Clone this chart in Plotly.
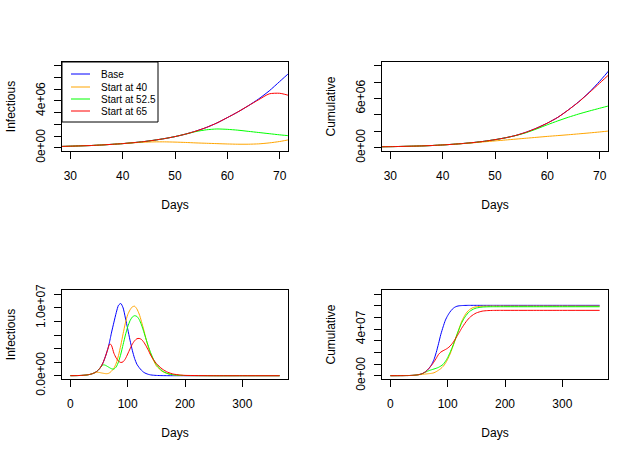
import plotly.graph_objects as go
from plotly.subplots import make_subplots

# ---------------- data (values in millions) ----------------
days = [0, 10, 20, 25, 28, 30, 32, 34, 36, 38, 40, 42, 44, 46, 48, 50, 52, 54, 56, 58,
        60, 62, 64, 66, 68, 70, 72, 76, 80, 84, 88, 92, 96, 100, 104, 108, 112, 116,
        120, 124, 128, 132, 136, 140, 145, 150, 160, 170, 180, 190, 200, 250, 300, 365]

series_names = ["Base", "Start at 40", "Start at 52.5", "Start at 65"]
series_colors = ["#0000FF", "#FFA500", "#00FF00", "#FF0000"]

inf_base = [0.005, 0.015, 0.045, 0.077, 0.105, 0.13, 0.16, 0.19, 0.235, 0.29, 0.35, 0.43, 0.52, 0.64, 0.78, 0.95, 1.16, 1.42, 1.73, 2.11,
            2.57, 3.05, 3.58, 4.17, 4.85, 5.65, 6.45, 7.9, 9.3, 10.4, 10.65, 10.0, 8.5, 6.9, 5.25, 3.75, 2.55, 1.7,
            1.2, 0.8, 0.5, 0.32, 0.2, 0.12, 0.07, 0.04, 0.012, 0.004, 0.001, 0, 0, 0, 0, 0]
inf_40 = [0.005, 0.015, 0.045, 0.077, 0.105, 0.13, 0.16, 0.19, 0.235, 0.29, 0.35, 0.42, 0.47, 0.5, 0.5, 0.48, 0.45, 0.41, 0.38, 0.35,
          0.32, 0.3, 0.3, 0.33, 0.41, 0.53, 0.7, 1.1, 1.85, 3.0, 4.5, 6.2, 7.8, 9.0, 9.7, 10.15, 10.25, 9.85,
          9.1, 8.0, 6.75, 5.4, 4.2, 3.2, 2.25, 1.45, 0.65, 0.3, 0.13, 0.06, 0.025, 0, 0, 0]
inf_52 = [0.005, 0.015, 0.045, 0.077, 0.105, 0.13, 0.16, 0.19, 0.235, 0.29, 0.35, 0.43, 0.52, 0.64, 0.78, 0.95, 1.16, 1.38, 1.53, 1.6,
          1.57, 1.5, 1.4, 1.3, 1.2, 1.1, 1.02, 0.98, 1.3, 2.05, 3.2, 4.6, 6.0, 7.2, 8.1, 8.65, 8.85, 8.75,
          8.3, 7.5, 6.5, 5.4, 4.35, 3.4, 2.4, 1.65, 0.72, 0.3, 0.13, 0.06, 0.025, 0, 0, 0]
inf_65 = [0.005, 0.015, 0.045, 0.077, 0.105, 0.13, 0.16, 0.19, 0.235, 0.29, 0.35, 0.43, 0.52, 0.64, 0.78, 0.95, 1.16, 1.42, 1.73, 2.11,
          2.57, 3.05, 3.58, 4.1, 4.6, 4.65, 4.42, 3.3, 2.6, 2.15, 1.95, 2.05, 2.5, 3.2, 3.95, 4.65, 5.15, 5.45,
          5.5, 5.35, 4.95, 4.4, 3.75, 3.05, 2.35, 1.8, 1.0, 0.5, 0.24, 0.11, 0.05, 0, 0, 0]

cum_base = [0.01, 0.025, 0.06, 0.09, 0.115, 0.13, 0.155, 0.185, 0.22, 0.27, 0.34, 0.42, 0.52, 0.64, 0.79, 0.98, 1.21, 1.5, 1.9, 2.4,
            3.0, 3.7, 4.6, 5.6, 6.75, 8.1, 9.6, 13.8, 20.0, 27.5, 35.5, 42.0, 47.8, 51.7, 54.8, 57.2, 58.8, 59.7,
            60.1, 60.3, 60.4, 60.45, 60.5, 60.5, 60.5, 60.5, 60.5, 60.5, 60.5, 60.5, 60.5, 60.5, 60.5, 60.5]
cum_40 = [0.01, 0.025, 0.06, 0.09, 0.115, 0.13, 0.155, 0.185, 0.22, 0.27, 0.34, 0.42, 0.51, 0.61, 0.72, 0.83, 0.94, 1.05, 1.16, 1.27,
          1.38, 1.48, 1.58, 1.69, 1.8, 1.92, 2.06, 2.5, 3.5, 4.7, 6.1, 8.0, 10.6, 14.2, 18.4, 23.6, 29.2, 35.2,
          40.8, 46.2, 50.3, 53.6, 55.9, 57.5, 58.7, 59.3, 59.75, 59.85, 59.9, 59.9, 59.9, 59.9, 59.9, 59.9]
cum_52 = [0.01, 0.025, 0.06, 0.09, 0.115, 0.13, 0.155, 0.185, 0.22, 0.27, 0.34, 0.42, 0.52, 0.64, 0.79, 0.98, 1.21, 1.49, 1.84, 2.3,
          2.8, 3.27, 3.71, 4.11, 4.47, 4.81, 5.14, 5.75, 6.4, 7.2, 8.3, 9.7, 12.3, 15.6, 19.8, 24.5, 29.6, 35.0,
          40.2, 45.0, 48.8, 51.8, 54.2, 55.9, 57.3, 58.2, 59.0, 59.25, 59.3, 59.3, 59.3, 59.3, 59.3, 59.3]
cum_65 = [0.01, 0.025, 0.06, 0.09, 0.115, 0.13, 0.155, 0.185, 0.22, 0.27, 0.34, 0.42, 0.52, 0.64, 0.79, 0.98, 1.21, 1.5, 1.9, 2.4,
          3.0, 3.7, 4.6, 5.58, 6.7, 7.87, 9.05, 11.8, 15.0, 18.3, 20.3, 21.5, 22.5, 23.7, 25.4, 27.7, 30.6, 33.8,
          37.1, 40.5, 43.6, 46.4, 48.8, 50.8, 52.6, 54.0, 55.5, 56.0, 56.15, 56.2, 56.2, 56.2, 56.2, 56.2]

infectious = [inf_base, inf_40, inf_52, inf_65]
cumulative = [cum_base, cum_40, cum_52, cum_65]

# tick values / labels
zoom_xticks = [30, 40, 50, 60, 70]
full_xticks = [0, 100, 200, 300]
tl_yticks = [0, 1e6, 2e6, 3e6, 4e6, 5e6, 6e6, 7e6]
tl_ylabels = ["0e+00", "", "", "", "4e+06", "", "", ""]
tr_yticks = [0, 2e6, 4e6, 6e6, 8e6, 10e6]
tr_ylabels = ["0e+00", "", "", "6e+06", "", ""]
bl_yticks = [0, 2e6, 4e6, 6e6, 8e6, 10e6, 12e6]
bl_ylabels = ["0.0e+00", "", "", "", "", "1.0e+07", ""]
br_yticks = [0, 1e7, 2e7, 3e7, 4e7, 5e7, 6e7, 7e7]
br_ylabels = ["0e+00", "", "", "", "4e+07", "", "", ""]

FONT = "Liberation Sans"
W, H = 640, 457

fig = make_subplots(rows=2, cols=2)

panels = [(1, 1, infectious), (1, 2, cumulative), (2, 1, infectious), (2, 2, cumulative)]
for pi, (r, c, data) in enumerate(panels):
    for si in range(4):
        fig.add_trace(go.Scatter(
            x=days, y=[v * 1e6 for v in data[si]], mode="lines",
            line=dict(color=series_colors[si], width=1, shape="spline", smoothing=0.6),
            name=series_names[si], showlegend=False, hoverinfo="skip"),
            row=r, col=c)

def px_x(p):
    return p / W
def px_y(p):
    return 1 - p / H
def xd(a, b):
    return [px_x(a), px_x(b)]
def yd(top, bottom):
    return [px_y(bottom), px_y(top)]

axis_common = dict(showline=True, mirror=True, linecolor="black", linewidth=1,
                   ticks="outside", ticklen=7, tickcolor="black", tickwidth=1,
                   showgrid=False, zeroline=False, automargin=False,
                   tickfont=dict(family=FONT, size=12, color="black"))

def xaxis(domain, rng, ticks):
    d = dict(axis_common)
    d.update(domain=domain, range=rng, tickmode="array", tickvals=ticks,
             ticktext=[str(t) for t in ticks], ticklabelstandoff=7,
             title=dict(text="Days", font=dict(family=FONT, size=12, color="black"), standoff=18))
    return d

def yaxis(domain, rng, ticks, labels, title):
    d = dict(axis_common)
    d.update(domain=domain, range=rng, tickmode="array", tickvals=ticks, ticktext=labels,
             tickangle=-90, ticklabelstandoff=4,
             title=dict(text=title, font=dict(family=FONT, size=12, color="black"), standoff=16))
    return d

# legend box (top-left panel), built from the series names / colours
legend_left, legend_top, legend_right, legend_bottom = 62, 62, 158, 122
row_y = [74, 87, 99, 111]
shapes = [dict(type="rect", xref="paper", yref="paper",
               x0=px_x(legend_left), x1=px_x(legend_right),
               y0=px_y(legend_bottom), y1=px_y(legend_top),
               line=dict(color="black", width=1), fillcolor="white", layer="above")]
annotations = []
for name, color, ry in zip(series_names, series_colors, row_y):
    shapes.append(dict(type="line", xref="paper", yref="paper",
                       x0=px_x(71), x1=px_x(90), y0=px_y(ry), y1=px_y(ry),
                       line=dict(color=color, width=1), layer="above"))
    annotations.append(dict(xref="paper", yref="paper", x=px_x(98.5), y=px_y(ry),
                            xanchor="left", yanchor="middle", showarrow=False,
                            text=name, font=dict(family=FONT, size=10, color="black")))

fig.update_layout(
    width=W, height=H, autosize=False, margin=dict(l=0, r=0, t=0, b=0, autoexpand=False),
    paper_bgcolor="white", plot_bgcolor="white",
    font=dict(family=FONT, size=12, color="black"),
    xaxis=xaxis(xd(62, 288), [28.4, 71.6], zoom_xticks),
    xaxis2=xaxis(xd(382, 608), [28.4, 71.6], zoom_xticks),
    xaxis3=xaxis(xd(62, 288), [-14.6, 379.6], full_xticks),
    xaxis4=xaxis(xd(382, 608), [-14.6, 379.6], full_xticks),
    yaxis=yaxis(yd(62, 151), [-0.28e6, 7.32e6], tl_yticks, tl_ylabels, "Infectious"),
    yaxis2=yaxis(yd(62, 151), [-0.4e6, 10.45e6], tr_yticks, tr_ylabels, "Cumulative"),
    yaxis3=yaxis(yd(290, 379), [-0.486e6, 12.64e6], bl_yticks, bl_ylabels, "Infectious"),
    yaxis4=yaxis(yd(290, 379), [-2.84e6, 73.7e6], br_yticks, br_ylabels, "Cumulative"),
    shapes=shapes, annotations=annotations,
    showlegend=False,
)

fig.write_html("out.html", config={"displayModeBar": False},
               post_script="document.body.style.margin='0px';document.body.style.overflow='hidden';")
